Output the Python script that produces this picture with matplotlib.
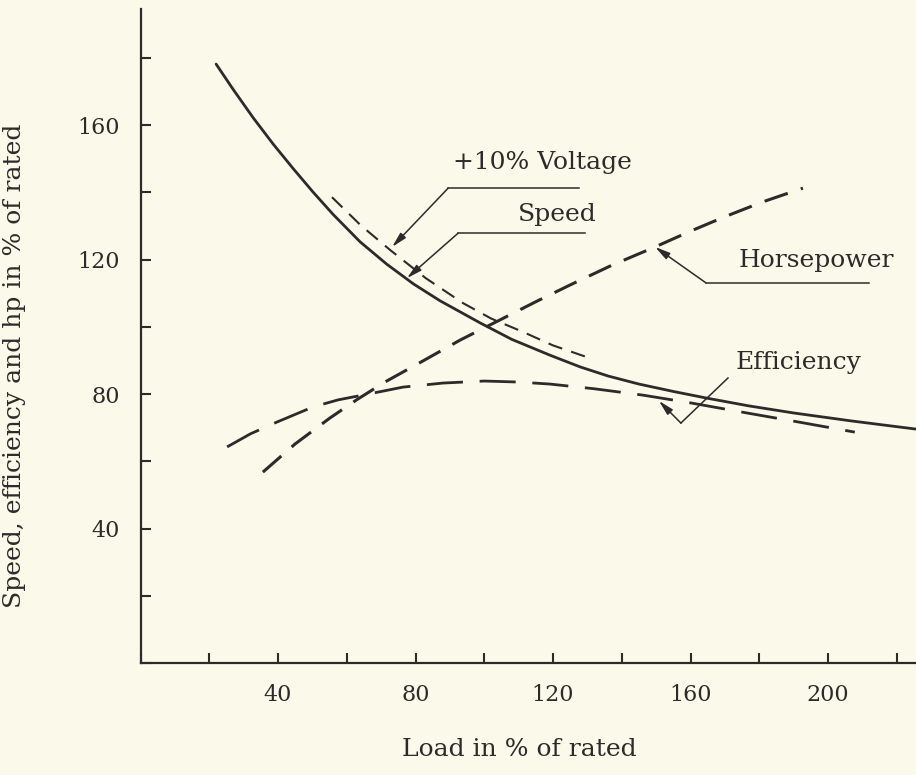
import matplotlib
matplotlib.use("Agg")
import matplotlib.pyplot as plt
from matplotlib.ticker import MultipleLocator, FuncFormatter

# curves (load %, value %)
speed_x = [22, 27, 32.8, 38.6, 44.5, 50.3, 56.1, 63.9, 71.6, 79.4, 87.1, 98.8, 108, 119.1, 127.9,
           136, 145, 155, 164.8, 177, 190, 207, 225.6]
speed_y = [178.2, 170.6, 162.2, 154.4, 147.0, 140.0, 133.4, 125.3, 118.7, 112.8, 107.8, 101.2, 96.3,
           91.6, 88.1, 85.4, 83, 80.8, 78.8, 76.5, 74.4, 72, 69.6]

voltage_x = [55.7, 64, 72.6, 83, 93.8, 102, 111.3, 120, 129.9]
voltage_y = [138.6, 130.3, 122.9, 114.5, 107.1, 102.5, 98.5, 94.5, 91.0]

hp_x = [35.6, 45, 55.1, 63, 71.1, 82.2, 93, 104.6, 115, 125, 137, 149.7, 160, 170, 181, 192.7]
hp_y = [56.8, 65.2, 72.9, 78.4, 83.6, 89.9, 96.1, 102.1, 107.5, 112.5, 118.3, 123.8, 128.5, 132.8, 137.2, 141.3]

eff_x = [25.2, 32, 39.7, 50.2, 57.5, 67.6, 76.4, 88, 100, 110, 119.1, 132, 146.2, 160, 176.4, 192, 207.8]
eff_y = [64.3, 68.2, 71.7, 76.2, 78.3, 80.3, 82.1, 83.3, 83.9, 83.6, 83.0, 81.6, 79.7, 77.4, 74.4, 71.6, 68.7]

x_labels = [40, 80, 120, 160, 200]
y_labels = [40, 80, 120, 160]

bg = "#fbf9ea"
ink = "#2b2b2b"
font = "DejaVu Serif"

fig = plt.figure(figsize=(9.16, 7.75), dpi=100, facecolor=bg)
ax = fig.add_axes([0.1534, 0.1445, 0.8466, 0.8439], facecolor=bg)

ax.plot(speed_x, speed_y, color=ink, lw=2.0, solid_capstyle="round", solid_joinstyle="round")
ax.plot(voltage_x, voltage_y, color=ink, lw=1.5, dashes=(7, 4.5))
ax.plot(hp_x, hp_y, color=ink, lw=2.2, dashes=(8, 4.5))
ax.plot(eff_x, eff_y, color=ink, lw=2.0, dashes=(13, 6))

ax.set_xlim(0, 225.6)
ax.set_ylim(0, 194.6)

for side in ("top", "right"):
    ax.spines[side].set_visible(False)
for side in ("left", "bottom"):
    ax.spines[side].set_color(ink)
    ax.spines[side].set_linewidth(1.6)

ax.xaxis.set_major_locator(MultipleLocator(20))
ax.yaxis.set_major_locator(MultipleLocator(20))
ax.xaxis.set_major_formatter(FuncFormatter(lambda v, p: f"{v:.0f}" if round(v) in x_labels else ""))
ax.yaxis.set_major_formatter(FuncFormatter(lambda v, p: f"{v:.0f}" if round(v) in y_labels else ""))
ax.tick_params(direction="in", length=7, width=1.5, color=ink, labelcolor=ink,
               labelsize=16, pad=15)
for t in ax.get_xticklabels() + ax.get_yticklabels():
    t.set_fontfamily(font)

ax.set_xlabel("Load in % of rated", fontfamily=font, fontsize=18, color=ink)
ax.xaxis.set_label_coords(0.489, -0.133)
ax.xaxis.label.set_va("center")
ax.set_ylabel("Speed, efficiency and hp in % of rated", fontfamily=font,
              fontsize=18, color=ink, va="center")
ax.yaxis.set_label_coords(-0.162, 0.454)

arrow = dict(arrowstyle="-|>,head_length=0.9,head_width=0.22", color=ink, lw=1.1,
             shrinkA=0, shrinkB=0)
txt = dict(fontfamily=font, fontsize=18, color=ink, ha="center", va="center")

# +10% Voltage
ax.annotate("", xy=(73.2, 123.8), xytext=(89.5, 141.3), arrowprops=arrow)
ax.plot([89.5, 127.6], [141.3, 141.3], color=ink, lw=1.1)
ax.text(116.8, 148.8, "+10% Voltage", **txt)

# Speed
ax.annotate("", xy=(77.5, 114.5), xytext=(92.4, 127.9), arrowprops=arrow)
ax.plot([92.4, 129.3], [127.9, 127.9], color=ink, lw=1.1)
ax.text(121.2, 133.6, "Speed", **txt)

# Horsepower
ax.annotate("", xy=(149.7, 123.8), xytext=(164.5, 113.1), arrowprops=arrow)
ax.plot([164.5, 211.9], [113.1, 113.1], color=ink, lw=1.1)
ax.text(196.5, 119.9, "Horsepower", **txt)

# Efficiency
ax.annotate("", xy=(150.8, 78.0), xytext=(157.2, 71.4), arrowprops=arrow)
ax.plot([157.2, 170.9], [71.4, 84.8], color=ink, lw=1.1)
ax.text(191.5, 89.3, "Efficiency", **txt)

fig.savefig("out.png", dpi=100, facecolor=bg)
